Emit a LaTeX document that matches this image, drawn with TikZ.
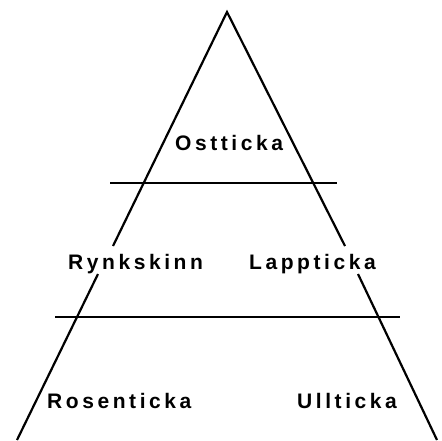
\documentclass[tikz,border=0pt]{standalone}
\usepackage{fontspec}
\setmainfont{Liberation Sans}[LetterSpace=17]
\begin{document}
\begin{tikzpicture}[x=1pt,y=-1pt,
  edge/.style={line width=2.2pt, line join=miter},
  rule/.style={line width=2.2pt},
  lbl/.style={anchor=base west, inner sep=0pt, font=\fontsize{21}{21}\selectfont\bfseries}]
\useasboundingbox (0,0) rectangle (442,440);
% side lines
\coordinate (apex) at (227,12);
\coordinate (l1) at (113,246);
\coordinate (r1) at (345,246);
\coordinate (l2) at (98,274);
\coordinate (l3) at (17,440);
\coordinate (r2) at (358,274);
\coordinate (r3) at (437,440);
\draw[edge] (l1) -- (apex) -- (r1);
\draw[edge] (l2) -- (l3);
\draw[edge] (r2) -- (r3);
% horizontal rules
\coordinate (h1a) at (110,183);
\coordinate (h1b) at (337,183);
\coordinate (h2a) at (55,317);
\coordinate (h2b) at (400,317);
\draw[rule] (h1a) -- (h1b);
\draw[rule] (h2a) -- (h2b);
% labels
\node[lbl] (ost) at (175,150) {Ostticka};
\node[lbl] (rynk) at (68,269) {Rynkskinn};
\node[lbl] (lapp) at (249,269) {Lappticka};
\node[lbl] (rosen) at (47,408) {Rosenticka};
\node[lbl] (ull) at (297,408) {Ullticka};
\end{tikzpicture}
\end{document}
